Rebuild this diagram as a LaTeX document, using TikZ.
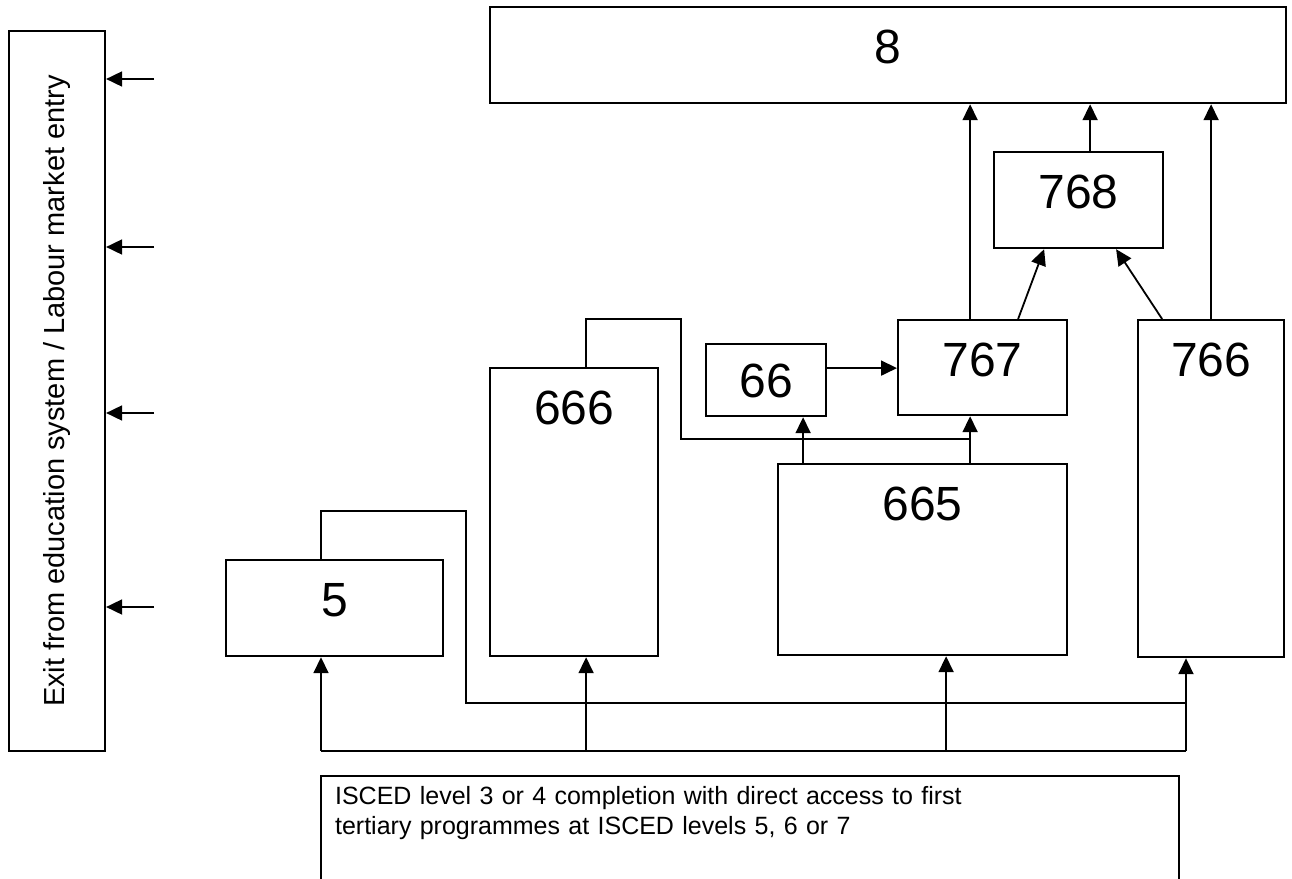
\documentclass[tikz,border=0pt]{standalone}
\usepackage{fontspec}
\setmainfont{Liberation Sans}
\usetikzlibrary{arrows.meta}

\begin{document}
\begin{tikzpicture}[x=1pt,y=-1pt,line width=1.8pt,
  arr/.style={-{Triangle[length=16pt,width=15pt]}},
  lvl/.style={draw,line width=2.2pt,anchor=north west,inner sep=0pt,inner ysep=22pt,text height=34pt,font=\fontsize{48}{56}\selectfont}]
\useasboundingbox (0,0) rectangle (1292,878);
\clip (0,0) rectangle (1292,878);
\node[draw,line width=2.2pt,rotate=90,minimum width=720pt,minimum height=96pt,font=\fontsize{29}{35}\selectfont] (exit) at (57,391) {Exit from education system / Labour market entry};
\node[lvl,minimum width=796pt,minimum height=96pt,text depth=18pt] (b8)   at (489,6)    {8};
\node[lvl,minimum width=169pt,minimum height=96pt,text depth=18pt] (b768) at (993,151)  {768};
\node[lvl,minimum width=169pt,minimum height=95pt,text depth=17pt] (b767) at (897,319)  {767};
\node[lvl,minimum width=146pt,minimum height=337pt,text depth=259pt] (b766) at (1137,319) {766};
\node[lvl,minimum width=120pt,minimum height=72pt,inner ysep=19pt,text depth=0pt] (b66) at (705,343) {66};
\node[lvl,minimum width=168pt,minimum height=288pt,text depth=210pt] (b666) at (489,367)  {666};
\node[lvl,minimum width=289pt,minimum height=191pt,text depth=113pt] (b665) at (777,463)  {665};
\node[lvl,minimum width=217pt,minimum height=96pt,text depth=18pt] (b5)   at (225,559)  {5};
\node[draw,line width=2.2pt,anchor=north west,text width=830pt,align=left,inner xsep=14pt,inner ysep=10pt,font=\fontsize{25}{30}\selectfont] (isced) at (320,775)
  {ISCED level 3 or 4 completion with direct access to first\\tertiary programmes at ISCED levels 5, 6 or 7\rule[-80pt]{0pt}{80pt}};

\foreach \y in {79,247,413,607}
  \draw[arr] (154,\y) -- (exit.south |- 0,\y);

\coordinate (jL) at (321,751);
\coordinate (jR) at (1186,751);
\draw (jL) -- (jR);
\draw[arr] (jL) -- (jL |- b5.south);
\draw[arr] ([xshift=12pt]b666.south |- jL) -- ([xshift=12pt]b666.south);
\draw[arr] ([xshift=23.5pt]b665.south |- jL) -- ([xshift=23.5pt]b665.south);
\draw[arr] (jR) -- (jR |- b766.south);
\draw (jL |- b5.north) |- (466,511) |- (jR |- 0,703);
\draw ([xshift=12pt]b666.north) |- (681,319) |- ([xshift=-12.5pt]b767.south |- 0,439);

\draw[arr] ([xshift=37pt]b66.south |- b665.north) -- ([xshift=37pt]b66.south);
\draw[arr] ([xshift=-12.5pt]b767.south |- b665.north) -- ([xshift=-12.5pt]b767.south);
\draw[arr] ([yshift=12pt]b66.east) -- ([yshift=12pt]b66.east -| b767.west);
\draw[arr] ([xshift=-12.5pt]b767.north) -- ([xshift=-12.5pt]b767.north |- b8.south);
\draw[arr] ([xshift=35.5pt]b767.north) -- ([xshift=-34.5pt]b768.south);
\draw[arr] ([xshift=-49pt]b766.north) -- ([xshift=37.5pt]b768.south);
\draw[arr] (b766.north) -- (b766.north |- b8.south);
\draw[arr] ([xshift=11.5pt]b768.north) -- ([xshift=11.5pt]b768.north |- b8.south);
\end{tikzpicture}
\end{document}
